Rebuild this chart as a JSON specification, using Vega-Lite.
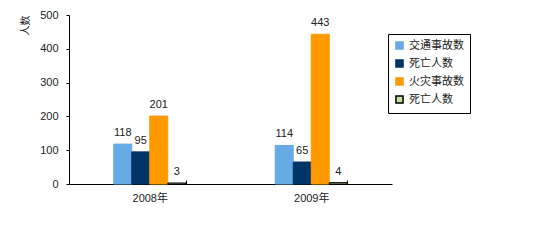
{
  "$schema": "https://vega.github.io/schema/vega-lite/v6.json",
  "width": 323,
  "height": 169,
  "autosize": {"type": "none"},
  "padding": {"left": 69, "top": 15, "right": 149, "bottom": 65},
  "background": "white",
  "config": {
    "view": {"stroke": null},
    "font": "Liberation Sans, Noto Sans CJK SC",
    "axis": {"grid": false, "domainColor": "black", "tickColor": "black", "labelColor": "#222", "labelFontSize": 11, "labelFont": "Liberation Sans, Noto Sans CJK SC"}
  },
  "data": {
    "values": [
      {"year": "2008年", "series": "交通事故数", "value": 118},
      {"year": "2008年", "series": "死亡人数", "value": 95},
      {"year": "2008年", "series": "火灾事故数", "value": 201},
      {"year": "2008年", "series": "死亡人数(火灾)", "value": 3},
      {"year": "2009年", "series": "交通事故数", "value": 114},
      {"year": "2009年", "series": "死亡人数", "value": 65},
      {"year": "2009年", "series": "火灾事故数", "value": 443},
      {"year": "2009年", "series": "死亡人数(火灾)", "value": 4}
    ]
  },
  "encoding": {
    "x": {
      "field": "year", "type": "nominal",
      "scale": {"paddingInner": 0.554, "paddingOuter": 0.277},
      "axis": {"title": null, "labelAngle": 0, "tickBand": "extent", "tickSize": -4, "labelPadding": 12, "domainWidth": 1}
    },
    "xOffset": {
      "field": "series", "type": "nominal",
      "scale": {"domain": ["交通事故数", "死亡人数", "火灾事故数", "死亡人数(火灾)"], "paddingInner": 0, "paddingOuter": 0}
    },
    "y": {
      "field": "value", "type": "quantitative",
      "scale": {"domain": [0, 500], "nice": false},
      "axis": {"values": [0, 100, 200, 300, 400, 500], "tickSize": 3, "labelPadding": 8, "title": "人数", "titleFont": "Noto Sans CJK SC", "titleFontSize": 10, "titleFontWeight": "normal", "titleColor": "#222", "titleX": -44, "titleY": 0, "titleAlign": "right", "titleBaseline": "middle", "titleAngle": -90}
    }
  },
  "layer": [
    {
      "mark": {"type": "bar", "strokeWidth": 1},
      "encoding": {
        "color": {
          "field": "series", "type": "nominal",
          "scale": {"domain": ["交通事故数", "死亡人数", "火灾事故数", "死亡人数(火灾)"], "range": ["#66AAE6", "#003366", "#FF9900", "#BFE3A0"]},
          "legend": {
            "title": null, "orient": "none", "legendX": 319, "legendY": 19,
            "strokeColor": "black", "fillColor": "white", "padding": 6,
            "symbolType": "square", "symbolSize": 50, "rowPadding": 3, "labelOffset": 4,
            "labelFont": "Noto Sans CJK SC", "labelFontSize": 11, "labelColor": "#222",
            "labelExpr": "datum.label == '死亡人数(火灾)' ? '死亡人数' : datum.label"
          }
        },
        "stroke": {
          "field": "series", "type": "nominal",
          "scale": {"domain": ["交通事故数", "死亡人数", "火灾事故数", "死亡人数(火灾)"], "range": ["#66AAE6", "#003366", "#FF9900", "#000000"]},
          "legend": {
            "title": null, "orient": "none", "legendX": 319, "legendY": 19,
            "strokeColor": "black", "fillColor": "white", "padding": 6,
            "symbolType": "square", "symbolSize": 50, "rowPadding": 3, "labelOffset": 4,
            "labelFont": "Noto Sans CJK SC", "labelFontSize": 11, "labelColor": "#222",
            "labelExpr": "datum.label == '死亡人数(火灾)' ? '死亡人数' : datum.label"
          }
        }
      }
    },
    {
      "mark": {"type": "text", "baseline": "middle", "dy": -11, "fontSize": 11, "color": "#222", "font": "Liberation Sans"},
      "encoding": {"text": {"field": "value", "type": "quantitative"}}
    }
  ]
}
